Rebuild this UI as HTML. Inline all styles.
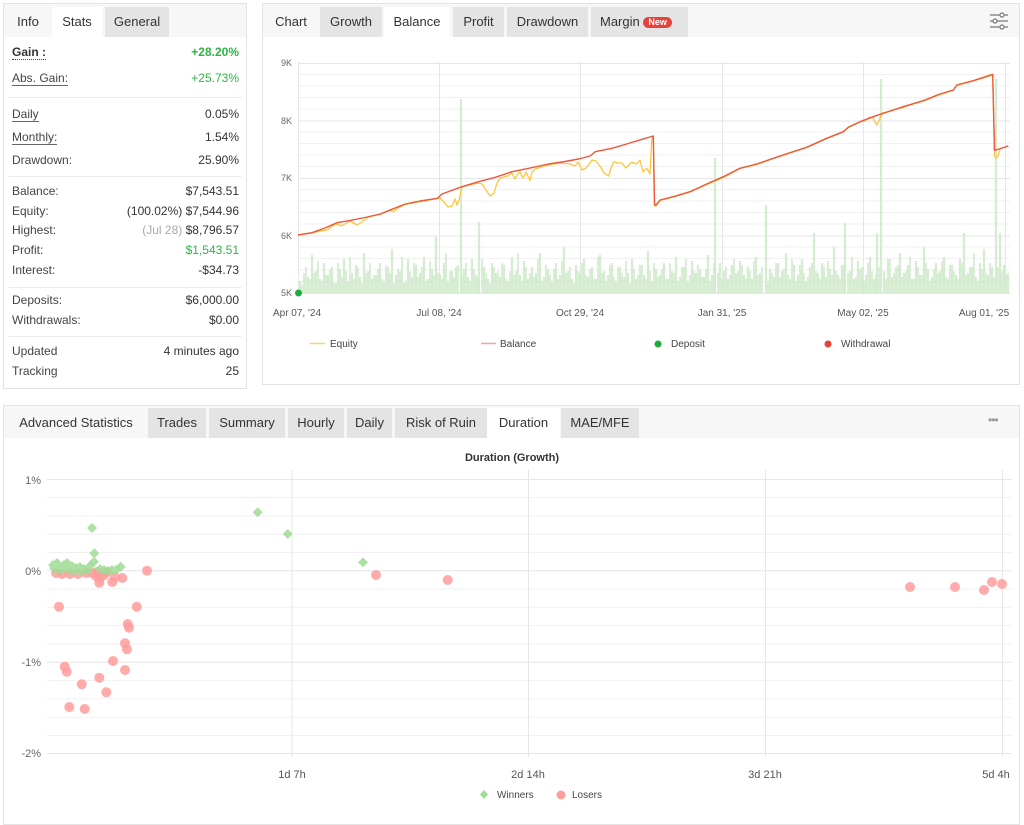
<!DOCTYPE html>
<html><head><meta charset="utf-8">
<style>
*{margin:0;padding:0;box-sizing:border-box}
body{width:1024px;height:814px;background:#fff;font-family:"Liberation Sans",Arial,sans-serif;color:#333;position:relative;overflow:hidden}
.a{position:absolute}
.panel{position:absolute;border:1px solid #e3e3e3;background:#fff}
.hdr{position:absolute;background:#f7f7f7}
.tab{position:absolute;height:30px;line-height:30px;font-size:13px;color:#333;text-align:center}
.g{background:#e4e4e4}
.w{background:#fff}
.row{position:absolute;left:12px;width:227px;font-size:12px;line-height:14px;color:#444}
.row .v{position:absolute;right:0;top:0;color:#333}
.sep{position:absolute;left:9px;width:233px;height:1px;background:#ececec}
.grn{color:#2fb344!important;font-weight:bold}
.ul{border-bottom:1px solid #666}
.dul{border-bottom:1px dotted #444}
</style></head><body>

<!-- LEFT PANEL -->
<div class="panel" style="left:3px;top:3px;width:244px;height:386px"></div>
<div class="hdr" style="left:4px;top:4px;width:242px;height:33px"></div>
<div class="tab" style="left:4px;top:7px;width:48px">Info</div>
<div class="tab w" style="left:52px;top:7px;width:50px;height:31px">Stats</div>
<div class="tab g" style="left:105px;top:7px;width:64px">General</div>

<div class="row" style="top:45px"><b class="dul" style="color:#333">Gain :</b><span class="v grn">+28.20%</span></div>
<div class="row" style="top:71px"><span class="ul">Abs. Gain:</span><span class="v grn" style="font-weight:normal">+25.73%</span></div>
<div class="sep" style="top:97px"></div>
<div class="row" style="top:107px"><span class="ul">Daily</span><span class="v">0.05%</span></div>
<div class="row" style="top:130px"><span class="ul">Monthly:</span><span class="v">1.54%</span></div>
<div class="row" style="top:153px">Drawdown:<span class="v">25.90%</span></div>
<div class="sep" style="top:176px"></div>
<div class="row" style="top:184px">Balance:<span class="v">$7,543.51</span></div>
<div class="row" style="top:204px">Equity:<span class="v">(100.02%) $7,544.96</span></div>
<div class="row" style="top:223px">Highest:<span class="v"><span style="color:#aaa">(Jul 28)</span> $8,796.57</span></div>
<div class="row" style="top:243px">Profit:<span class="v" style="color:#2fb344">$1,543.51</span></div>
<div class="row" style="top:263px">Interest:<span class="v">-$34.73</span></div>
<div class="sep" style="top:287px"></div>
<div class="row" style="top:293px">Deposits:<span class="v">$6,000.00</span></div>
<div class="row" style="top:313px">Withdrawals:<span class="v">$0.00</span></div>
<div class="sep" style="top:336px"></div>
<div class="row" style="top:344px">Updated<span class="v">4 minutes ago</span></div>
<div class="row" style="top:364px">Tracking<span class="v">25</span></div>

<!-- TOP RIGHT PANEL -->
<div class="panel" style="left:262px;top:3px;width:758px;height:382px"></div>
<div class="hdr" style="left:263px;top:4px;width:756px;height:33px"></div>
<div class="tab" style="left:266px;top:7px;width:50px">Chart</div>
<div class="tab g" style="left:320px;top:7px;width:62px">Growth</div>
<div class="tab w" style="left:384px;top:7px;width:66px;height:31px">Balance</div>
<div class="tab g" style="left:453px;top:7px;width:51px">Profit</div>
<div class="tab g" style="left:507px;top:7px;width:81px">Drawdown</div>
<div class="tab g" style="left:591px;top:7px;width:97px;text-align:left;padding-left:9px">Margin <span style="display:inline-block;background:#e8413b;color:#fff;font-size:9px;line-height:11px;height:11px;padding:0 5px;border-radius:6px;font-weight:bold;vertical-align:1px">New</span></div>
<svg class="a" style="left:988px;top:11px" width="22" height="20" viewBox="0 0 22 20">
<g stroke="#777" stroke-width="1.2" fill="#fff">
<line x1="2" y1="4" x2="20" y2="4"/><line x1="2" y1="10" x2="20" y2="10"/><line x1="2" y1="16" x2="20" y2="16"/>
<circle cx="14" cy="4" r="2"/><circle cx="7" cy="10" r="2"/><circle cx="14" cy="16" r="2"/></g></svg>

<!-- BOTTOM PANEL -->
<div class="panel" style="left:3px;top:405px;width:1017px;height:420px"></div>
<div class="hdr" style="left:4px;top:406px;width:1015px;height:32px"></div>
<div class="tab" style="left:10px;top:408px;width:132px">Advanced Statistics</div>
<div class="tab g" style="left:148px;top:408px;width:58px">Trades</div>
<div class="tab g" style="left:209px;top:408px;width:76px">Summary</div>
<div class="tab g" style="left:288px;top:408px;width:56px">Hourly</div>
<div class="tab g" style="left:347px;top:408px;width:45px">Daily</div>
<div class="tab g" style="left:395px;top:408px;width:92px">Risk of Ruin</div>
<div class="tab w" style="left:487px;top:408px;width:73px;height:31px">Duration</div>
<div class="tab g" style="left:561px;top:408px;width:78px">MAE/MFE</div>
<div class="a" style="left:988px;top:413px;font-size:12px;color:#999;letter-spacing:-1px">•••</div>

<svg class="a" style="left:0;top:0" width="1024" height="814" viewBox="0 0 1024 814" font-family="Liberation Sans, Arial, sans-serif">
<!-- top chart grid -->
<g stroke="#f1f1f1" stroke-width="1">
<path d="M298 74.5H1010M298 86H1010M298 97.5H1010M298 109H1010M298 132H1010M298 143.5H1010M298 155H1010M298 166.5H1010M298 189.5H1010M298 201H1010M298 212.5H1010M298 224H1010M298 247H1010M298 258.5H1010M298 270H1010M298 281.5H1010"/>
</g>
<g stroke="#e6e6e6" stroke-width="1">
<path d="M298 63.5H1010M298 121H1010M298 178.5H1010M298 236H1010M298 293.5H1010"/>
<path d="M298.5 62V294M439.5 62V294M580.5 62V294M722.5 62V294M863.5 62V294M1005.5 62V294"/>
</g>
<g font-size="9" fill="#666" text-anchor="end">
<text x="292" y="66">9K</text><text x="292" y="124">8K</text><text x="292" y="181">7K</text><text x="292" y="239">6K</text><text x="292" y="296">5K</text>
</g>
<!-- volume bars -->
<path fill="none" stroke="#cde9c8" stroke-opacity="0.85" stroke-width="2.2" d="
M300 293v-12M304 293v-20M308 293v-16M312 293v-38M316 293v-22M320 293v-14M324 293v-30M328 293v-18M332 293v-26M336 293v-10
M340 293v-24M344 293v-34M348 293v-12M352 293v-20M356 293v-28M360 293v-16M364 293v-40M368 293v-22M372 293v-14M376 293v-18
M380 293v-30M384 293v-12M388 293v-26M392 293v-44M396 293v-18M400 293v-22M404 293v-10M408 293v-34M412 293v-16M416 293v-28
M420 293v-20M424 293v-36M428 293v-14M432 293v-24M436 293v-56M440 293v-18M444 293v-30M448 293v-12M452 293v-22M456 293v-26
M461 293v-194M464 293v-24M468 293v-16M472 293v-34M476 293v-18M479 293v-71M484 293v-26M488 293v-14M492 293v-30M496 293v-20
M500 293v-16M504 293v-28M508 293v-12M512 293v-36M516 293v-22M520 293v-18M524 293v-32M528 293v-14M532 293v-26M536 293v-20
M540 293v-40M544 293v-16M548 293v-24M552 293v-12M556 293v-30M560 293v-18M564 293v-46M568 293v-22M572 293v-14M576 293v-28
M580 293v-20M584 293v-34M588 293v-16M592 293v-26M596 293v-14M600 293v-38M604 293v-22M608 293v-18M612 293v-30M616 293v-12
M620 293v-26M624 293v-16M628 293v-20M632 293v-34M636 293v-14M640 293v-28M644 293v-18M648 293v-42M652 293v-12M656 293v-24
M660 293v-18M664 293v-30M668 293v-14M672 293v-22M676 293v-36M680 293v-16M684 293v-26M688 293v-12M692 293v-32M696 293v-20
M700 293v-24M704 293v-16M708 293v-38M712 293v-18M715 293v-135M720 293v-30M724 293v-22M728 293v-14M732 293v-28M736 293v-20
M740 293v-32M744 293v-18M748 293v-26M752 293v-14M756 293v-36M760 293v-20M766 293v-88M770 293v-24M774 293v-16M778 293v-30
M782 293v-22M786 293v-40M790 293v-14M794 293v-28M798 293v-18M802 293v-34M806 293v-12M810 293v-26M814 293v-60M818 293v-20
M822 293v-30M826 293v-16M830 293v-24M834 293v-46M838 293v-18M842 293v-28M845 293v-70M850 293v-22M854 293v-14M858 293v-32
M862 293v-26M866 293v-18M870 293v-36M874 293v-14M877 293v-60M881 293v-214M884 293v-22M888 293v-34M892 293v-16M896 293v-26
M900 293v-40M904 293v-20M908 293v-28M912 293v-14M916 293v-32M920 293v-18M924 293v-46M928 293v-24M932 293v-16M936 293v-30
M940 293v-22M944 293v-36M948 293v-14M952 293v-28M956 293v-18M960 293v-34M964 293v-60M968 293v-20M972 293v-26M976 293v-16
M980 293v-30M984 293v-44M988 293v-18M992 293v-26M996 293v-214M1000 293v-60M1004 293v-28M1008 293v-20"/>
<path fill="none" stroke="#cde9c8" stroke-opacity="0.8" stroke-width="1.8" d="
M302 293v-8M306 293v-26M310 293v-14M314 293v-20M318 293v-32M322 293v-12M326 293v-18M330 293v-24M334 293v-10M338 293v-30
M342 293v-16M346 293v-22M350 293v-36M354 293v-14M358 293v-26M362 293v-10M366 293v-20M370 293v-30M374 293v-18M378 293v-24
M382 293v-14M386 293v-28M390 293v-20M394 293v-10M398 293v-24M402 293v-36M406 293v-12M410 293v-22M414 293v-30M418 293v-16
M422 293v-26M426 293v-12M430 293v-32M434 293v-18M438 293v-20M442 293v-14M446 293v-40M450 293v-22M454 293v-16M458 293v-28
M462 293v-18M466 293v-30M470 293v-12M474 293v-24M478 293v-16M482 293v-34M486 293v-20M490 293v-10M494 293v-26M498 293v-22
M502 293v-30M506 293v-14M510 293v-22M514 293v-18M518 293v-40M522 293v-12M526 293v-26M530 293v-20M534 293v-16M538 293v-34
M542 293v-12M546 293v-28M550 293v-18M554 293v-24M558 293v-14M562 293v-32M566 293v-20M570 293v-26M574 293v-10M578 293v-22
M582 293v-30M586 293v-18M590 293v-24M594 293v-14M598 293v-36M602 293v-20M606 293v-12M610 293v-28M614 293v-16M618 293v-26
M622 293v-20M626 293v-32M630 293v-10M634 293v-24M638 293v-18M642 293v-28M646 293v-14M650 293v-22M654 293v-30M658 293v-16
M662 293v-24M666 293v-14M670 293v-30M674 293v-20M678 293v-12M682 293v-26M686 293v-34M690 293v-18M694 293v-22M698 293v-28
M702 293v-16M706 293v-24M710 293v-12M714 293v-30M718 293v-20M722 293v-14M726 293v-26M730 293v-18M734 293v-34M738 293v-22
M742 293v-28M746 293v-14M750 293v-22M754 293v-32M758 293v-18M762 293v-26M768 293v-12M772 293v-20M776 293v-30M780 293v-16
M784 293v-24M788 293v-18M792 293v-34M796 293v-12M800 293v-28M804 293v-20M808 293v-16M812 293v-30M816 293v-22M820 293v-14
M824 293v-26M828 293v-32M832 293v-18M836 293v-22M840 293v-14M844 293v-28M848 293v-20M852 293v-36M856 293v-16M860 293v-24
M864 293v-12M868 293v-30M872 293v-22M876 293v-18M879 293v-26M886 293v-14M890 293v-34M894 293v-20M898 293v-28M902 293v-16
M906 293v-22M910 293v-36M914 293v-14M918 293v-26M922 293v-18M926 293v-30M930 293v-12M934 293v-24M938 293v-20M942 293v-32
M946 293v-16M950 293v-28M954 293v-22M958 293v-14M962 293v-30M966 293v-18M970 293v-26M974 293v-40M978 293v-12M982 293v-24
M986 293v-20M990 293v-30M994 293v-16M998 293v-26M1002 293v-22M1006 293v-18"/>
<!-- equity -->
<polyline fill="none" stroke="#ffc53d" stroke-width="1.3" stroke-linejoin="round" points="298,235 312,233 320,231 327,230 335,224 342,225.7 350,221 357,225 362,222 368.7,216.7 380,214.5 390,210 393.7,211.7 398,208 405,204.5 437,198.5 440,198 444,202 448,207 452,206 455,199 457,205 459,200 462,187 478,183 482,184 486,190 490,196 494,193 497,183 500,178 508,176 512,173 515,179 517,175 520,172 523,178 526,172 530,180.7 532,172 535,169 548,165 560,163 570,164 575,166 578,162 582,170 586,168 590,163 592,160 596,161 600,166 604,173 608.7,176 611,168 613.7,161.7 618,163 622,163 626,168 628.7,165 632,162 636,164 638.7,161.7 640,160 643,171.7 646.7,168.3 650,174 651.7,140 653.3,136.5 654.5,206 656,206 660,200.5 673.3,197 690,192 706.7,184.5 723.3,177.5 740,168.5 756.7,164.5 773.3,158.5 790,153 806.7,147.5 826.7,138.5 843.3,132 848.3,127.5 860,122 866,120 870,117 873,118 876.7,125 879,121 882,113 890,111.5 898,108.5 902,108 905,106.5 923.3,101 940,94.5 953.3,90.5 956.7,85.5 973.3,81 992.7,75 994.5,156 996,158 998,156 1000,149 1008,146"/>
<!-- balance -->
<polyline fill="none" stroke="#f0573a" stroke-width="1.4" stroke-linejoin="round" points="298,235 312,232.7 325,228 337,222.7 348.7,220.7 365,217.5 380.3,214 392,209.3 405.3,204 420,201 437.7,198.3 442,194 462,186.7 478.7,181.7 495.3,177.3 512,171.7 528.7,168.3 548.7,164 565,161.5 578.7,159 590,156 595.3,151.7 612,148.3 630,143 642,139.3 653.3,136 654.5,205 656,205 660,200 673.3,196.7 690,191.7 706.7,184 723.3,176.7 740,168.3 756.7,164 773.3,158.3 790,152.7 806.7,147.3 826.7,138.3 843.3,131.7 848.3,127.3 860,121.7 873.3,116.7 890,111 903.3,106.7 923.3,100.7 940,94 953.3,90 956.7,85 973.3,80.7 992.7,74.3 994.5,150 996,150 1008.3,146"/>
<circle cx="298.5" cy="293" r="3.5" fill="#1faa3c"/>
<!-- x labels -->
<g font-size="10" fill="#555" text-anchor="middle">
<text x="297" y="316">Apr 07, '24</text><text x="439" y="316">Jul 08, '24</text><text x="580" y="316">Oct 29, '24</text><text x="722" y="316">Jan 31, '25</text><text x="863" y="316">May 02, '25</text><text x="984" y="316">Aug 01, '25</text>
</g>
<!-- legend -->
<g font-size="10" fill="#444">
<line x1="310" y1="343.5" x2="325" y2="343.5" stroke="#ffcf6b" stroke-width="1.5"/><text x="330" y="347">Equity</text>
<line x1="481" y1="343.5" x2="496" y2="343.5" stroke="#f7a1a1" stroke-width="1.5"/><text x="500" y="347">Balance</text>
<circle cx="658" cy="344" r="3.5" fill="#1faa3c"/><text x="671" y="347">Deposit</text>
<circle cx="828" cy="344" r="3.5" fill="#e8413b"/><text x="841" y="347">Withdrawal</text>
</g>

<!-- SCATTER -->
<text x="512" y="461" font-size="11" font-weight="bold" fill="#333" text-anchor="middle">Duration (Growth)</text>
<g stroke="#f1f1f1" stroke-width="1">
<path d="M47 497.6H1012M47 515.9H1012M47 534.2H1012M47 552.5H1012M47 589H1012M47 607.3H1012M47 625.6H1012M47 643.9H1012M47 680.6H1012M47 698.9H1012M47 717.2H1012M47 735.5H1012"/>
</g>
<g stroke="#e6e6e6" stroke-width="1">
<path d="M47 479.5H1012M47 570.8H1012M47 662.2H1012M47 753.5H1012"/>
<path d="M292 470V757M528.5 470V757M765.5 470V757M1002.5 470V757"/>
</g>
<g font-size="11" fill="#666" text-anchor="end">
<text x="41" y="484">1%</text><text x="41" y="575">0%</text><text x="41" y="666">-1%</text><text x="41" y="757">-2%</text>
</g>
<g font-size="11" fill="#555" text-anchor="middle">
<text x="292" y="778">1d 7h</text><text x="528" y="778">2d 14h</text><text x="765" y="778">3d 21h</text><text x="996" y="778">5d 4h</text>
</g>
<!-- losers -->
<g fill="#ff9c9c" fill-opacity="0.85">
<circle cx="56" cy="573" r="5"/><circle cx="62" cy="574" r="5"/><circle cx="70" cy="574" r="5"/><circle cx="78" cy="574" r="5"/><circle cx="86" cy="573" r="5"/><circle cx="92" cy="573" r="5"/>
<circle cx="147" cy="570.7" r="5"/><circle cx="59" cy="606.7" r="5"/><circle cx="136.7" cy="606.7" r="5"/><circle cx="127.7" cy="624" r="5"/><circle cx="129" cy="627.7" r="5"/><circle cx="125" cy="643.3" r="5"/><circle cx="127" cy="649.3" r="5"/><circle cx="113" cy="661" r="5"/><circle cx="64.7" cy="666.7" r="5"/><circle cx="66.7" cy="671.7" r="5"/><circle cx="125" cy="670" r="5"/><circle cx="99.3" cy="677.7" r="5"/><circle cx="81.7" cy="684.3" r="5"/><circle cx="106.3" cy="692.3" r="5"/><circle cx="69.3" cy="707" r="5"/><circle cx="84.7" cy="709" r="5"/>
<circle cx="97.3" cy="572" r="5"/><circle cx="100" cy="578" r="5"/><circle cx="106.7" cy="572" r="5"/><circle cx="112.3" cy="582" r="5"/><circle cx="115" cy="577" r="5"/><circle cx="122.3" cy="578" r="5"/><circle cx="99.3" cy="582.7" r="5"/><circle cx="104" cy="575" r="5"/><circle cx="96" cy="576" r="5"/>
<circle cx="376" cy="575" r="5"/><circle cx="447.7" cy="580" r="5"/><circle cx="910" cy="587" r="5"/><circle cx="955" cy="587" r="5"/><circle cx="984" cy="590" r="5"/><circle cx="992" cy="582" r="5"/><circle cx="1002" cy="584" r="5"/>
</g>
<!-- winners -->
<g fill="#9edc93" fill-opacity="0.85">
<path d="M92 523l5 5-5 5-5-5zM94.3 548.3l5 5-5 5-5-5zM94 556.7l5 5-5 5-5-5zM120.7 561.7l5 5-5 5-5-5zM257.7 507.3l5 5-5 5-5-5zM287.7 529l5 5-5 5-5-5zM363 557.3l5 5-5 5-5-5z"/>
<path d="M53 560l5 5-5 5-5-5zM57 558l5 5-5 5-5-5zM60 562l5 5-5 5-5-5zM64 560l5 5-5 5-5-5zM68 563l5 5-5 5-5-5zM72 561l5 5-5 5-5-5zM76 563l5 5-5 5-5-5zM80 562l5 5-5 5-5-5zM84 564l5 5-5 5-5-5zM88 565l5 5-5 5-5-5zM56 565l5 5-5 5-5-5zM62 565l5 5-5 5-5-5zM70 565l5 5-5 5-5-5zM78 565l5 5-5 5-5-5zM90 561l5 5-5 5-5-5zM67 558l5 5-5 5-5-5zM100 564l5 5-5 5-5-5zM104 565l5 5-5 5-5-5zM108 566l5 5-5 5-5-5zM112 565l5 5-5 5-5-5zM116 565l5 5-5 5-5-5zM54 563l5 5-5 5-5-5zM74 566l5 5-5 5-5-5zM82 566l5 5-5 5-5-5z"/>
</g>
<!-- scatter legend -->
<path d="M484 790l4 4.5-4 4.5-4-4.5z" fill="#9edc93"/>
<text x="497" y="798" font-size="10" fill="#444">Winners</text>
<circle cx="561" cy="795" r="4.5" fill="#ff9c9c"/>
<text x="572" y="798" font-size="10" fill="#444">Losers</text>
</svg>
</body></html>
